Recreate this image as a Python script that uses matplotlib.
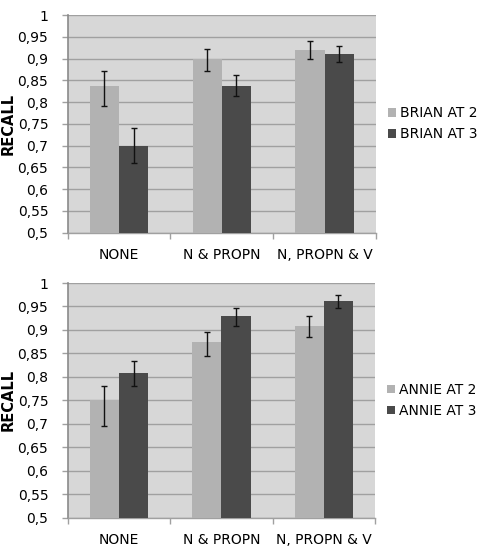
import matplotlib
matplotlib.use("Agg")
import matplotlib.pyplot as plt
import numpy as np

# categories and series
categories = ["NONE", "N & PROPN", "N, PROPN & V"]

brian_labels = ["BRIAN AT 2", "BRIAN AT 3"]
brian_at2 = [0.837, 0.898, 0.919]
brian_at2_lo = [0.792, 0.872, 0.900]
brian_at2_hi = [0.871, 0.922, 0.941]
brian_at3 = [0.700, 0.837, 0.911]
brian_at3_lo = [0.661, 0.815, 0.892]
brian_at3_hi = [0.741, 0.862, 0.929]

annie_labels = ["ANNIE AT 2", "ANNIE AT 3"]
annie_at2 = [0.750, 0.875, 0.908]
annie_at2_lo = [0.695, 0.844, 0.884]
annie_at2_hi = [0.780, 0.896, 0.929]
annie_at3 = [0.809, 0.930, 0.962]
annie_at3_lo = [0.780, 0.908, 0.947]
annie_at3_hi = [0.834, 0.947, 0.975]

yticks = [0.5, 0.55, 0.6, 0.65, 0.7, 0.75, 0.8, 0.85, 0.9, 0.95, 1.0]
ytick_labels = ["0,5", "0,55", "0,6", "0,65", "0,7", "0,75", "0,8", "0,85", "0,9", "0,95", "1"]

LIGHT = "#b2b2b2"
DARK = "#4a4a4a"
BG = "#d7d7d7"
GRID = "#a0a0a0"

plt.rcParams["font.family"] = ["DejaVu Sans"]
plt.rcParams["font.size"] = 10

fig = plt.figure(figsize=(4.82, 5.52), dpi=100)


def draw_panel(ax, labels, s1, s1_lo, s1_hi, s2, s2_lo, s2_hi):
    x = np.arange(len(categories))
    w = 0.285
    series = [(s1, s1_lo, s1_hi, LIGHT), (s2, s2_lo, s2_hi, DARK)]
    for i, (vals, lo, hi, col) in enumerate(series):
        vals = np.array(vals)
        yerr = [vals - np.array(lo), np.array(hi) - vals]
        pos = x + (i - 0.5) * w
        ax.bar(pos, vals - 0.5, w, bottom=0.5, color=col, label=labels[i], zorder=3)
        ax.errorbar(pos, vals, yerr=yerr, fmt="none", ecolor="#111111",
                    elinewidth=1.0, capsize=2.5, capthick=1.0, zorder=4)

    ax.set_facecolor(BG)
    ax.set_xlim(-0.5, len(categories) - 0.5)
    ax.set_ylim(0.5, 1.0)
    ax.set_yticks(yticks)
    ax.set_yticklabels(ytick_labels)
    ax.yaxis.grid(True, color=GRID, linewidth=1.0, zorder=0)
    ax.set_axisbelow(True)

    ax.set_xticks(x)
    ax.set_xticklabels(categories)
    ax.set_xticks(np.arange(-0.5, len(categories)), minor=True)
    ax.tick_params(axis="x", which="major", length=0, pad=11)
    ax.tick_params(axis="x", which="minor", length=4, color=GRID, width=1.0)
    ax.tick_params(axis="y", length=4, color=GRID, width=1.0, pad=10)

    for side in ["top", "right"]:
        ax.spines[side].set_visible(False)
    ax.spines["left"].set_color("#8a8a8a")
    ax.spines["left"].set_linewidth(1.2)
    ax.spines["bottom"].set_color(GRID)
    ax.spines["bottom"].set_linewidth(1.0)

    ax.set_ylabel("RECALL", fontweight="bold", fontsize=10.5)
    # place the label centre about 15 px from the figure's left edge
    ax.yaxis.set_label_coords(-0.17, 0.5)

    ax.legend(loc="center left", bbox_to_anchor=(1.02, 0.5), frameon=False,
              handlelength=0.6, handleheight=0.6, handletextpad=0.3,
              labelspacing=0.5, borderaxespad=0)


ax1 = fig.add_axes([0.1405, 0.5784, 0.6395, 0.3944])
draw_panel(ax1, brian_labels, brian_at2, brian_at2_lo, brian_at2_hi,
           brian_at3, brian_at3_lo, brian_at3_hi)

ax2 = fig.add_axes([0.1405, 0.0621, 0.6376, 0.4252])
draw_panel(ax2, annie_labels, annie_at2, annie_at2_lo, annie_at2_hi,
           annie_at3, annie_at3_lo, annie_at3_hi)

fig.savefig("out.png", dpi=100, facecolor="white")
